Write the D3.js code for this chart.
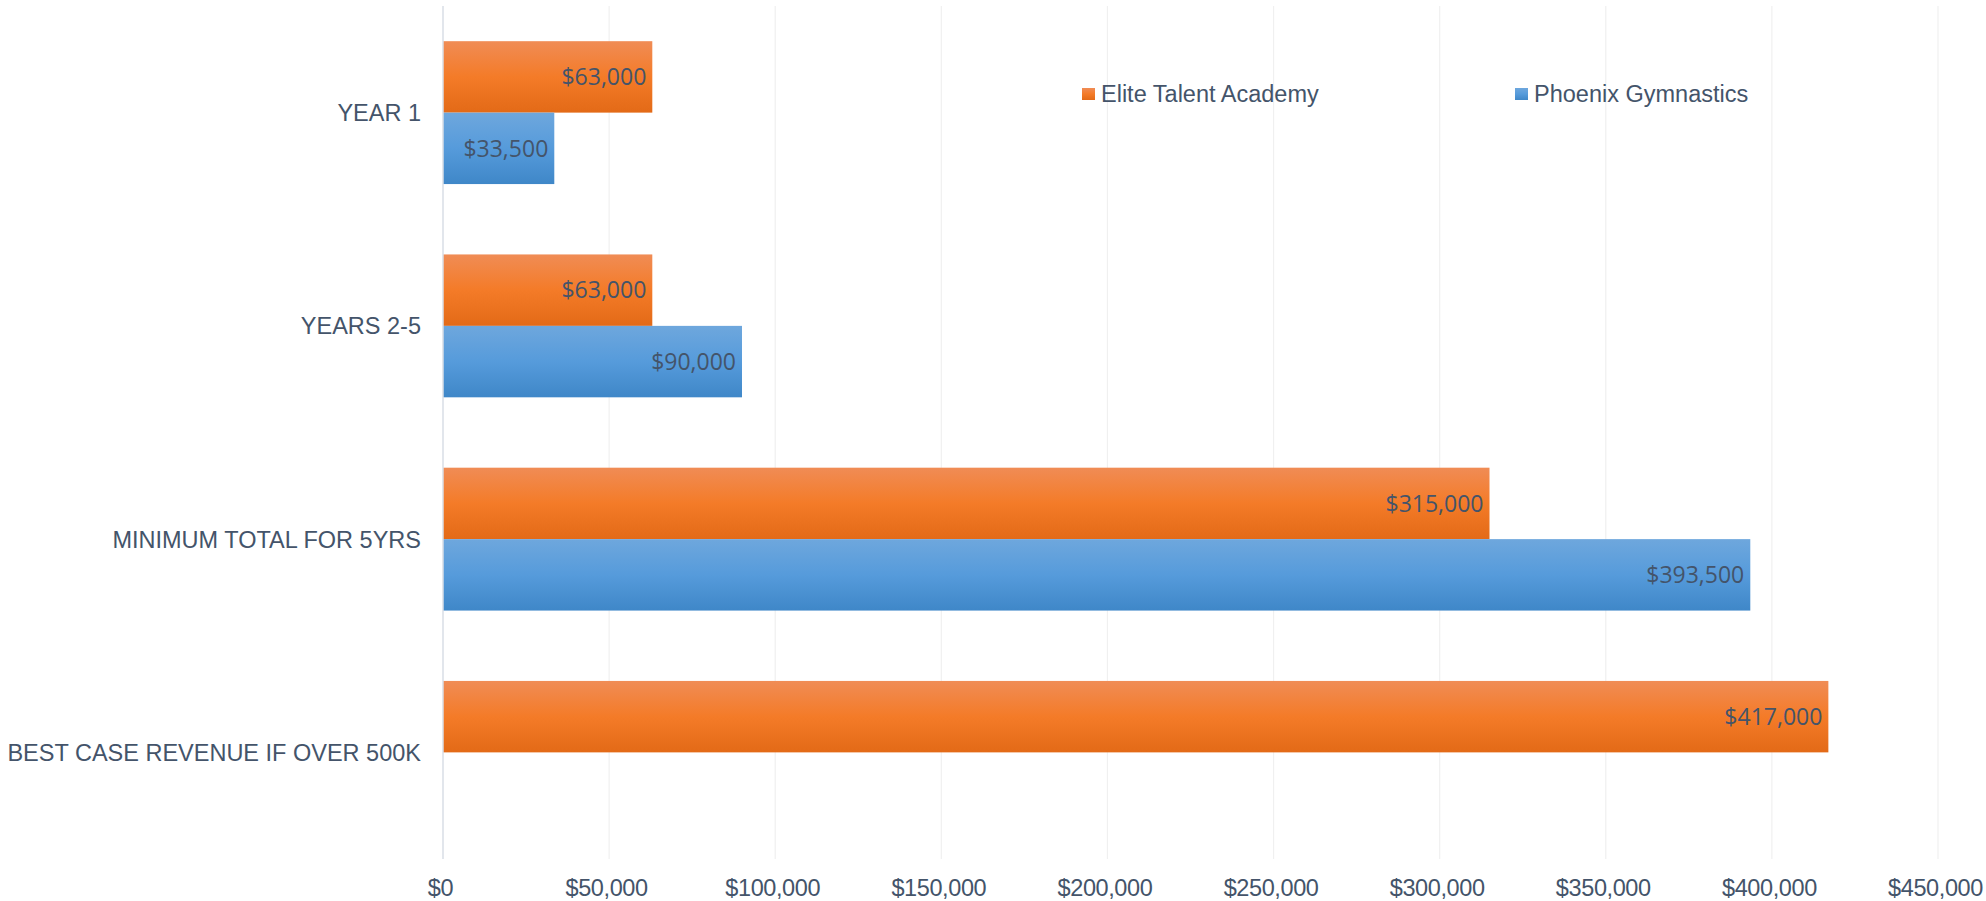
<!DOCTYPE html>
<html>
<head>
<meta charset="utf-8">
<script src="https://cdn.jsdelivr.net/npm/d3@7"></script>
<style>
  html, body { margin: 0; padding: 0; background: #ffffff; }
  svg { display: block; }
</style>
</head>
<body>
<svg id="chart" width="1986" height="901"></svg>
<script>
// ---- data ----
const categories = ["YEAR 1", "YEARS 2-5", "MINIMUM TOTAL FOR 5YRS", "BEST CASE REVENUE IF OVER 500K"];
const seriesNames = ["Elite Talent Academy", "Phoenix Gymnastics"];
const eliteValues = [63000, 63000, 315000, 417000];
const phoenixValues = [33500, 90000, 393500, null];
const tickValues = [0, 50000, 100000, 150000, 200000, 250000, 300000, 350000, 400000, 450000];

// ---- layout ----
const plot = { left: 443, right: 1938, top: 6, bottom: 859 };
const textColor = "#44546a";
const fmt = d3.format("$,.0f");

const svg = d3.select("#chart");

// gradients
const defs = svg.append("defs");
function grad(id, c0, c1, c2) {
  const g = defs.append("linearGradient").attr("id", id)
    .attr("x1", 0).attr("y1", 0).attr("x2", 0).attr("y2", 1);
  g.append("stop").attr("offset", "0%").attr("stop-color", c0);
  g.append("stop").attr("offset", "50%").attr("stop-color", c1);
  g.append("stop").attr("offset", "100%").attr("stop-color", c2);
}
grad("gOrange", "#f08c55", "#f47b28", "#e36a17");
grad("gBlue", "#6ea7dd", "#569bdb", "#3f87c8");
const fills = { "Elite Talent Academy": "url(#gOrange)", "Phoenix Gymnastics": "url(#gBlue)" };

// scales
const x = d3.scaleLinear().domain([0, 450000]).range([plot.left, plot.right]);
const y = d3.scaleBand().domain(categories).range([plot.top, plot.bottom])
  .paddingInner(0.33).paddingOuter(0.165);
const ySub = d3.scaleBand().domain(seriesNames).range([0, y.bandwidth()]);

// gridlines
svg.append("g").selectAll("line").data(tickValues.filter(d => d > 0)).join("line")
  .attr("x1", d => x(d)).attr("x2", d => x(d))
  .attr("y1", plot.top).attr("y2", plot.bottom)
  .attr("stroke", "#f0f0f0").attr("stroke-width", 1.2);

// x axis labels
const xAxis = d3.axisBottom(x).tickValues(tickValues).tickFormat(fmt).tickSize(0).tickPadding(0);
const gx = svg.append("g").attr("transform", `translate(0,${plot.bottom})`).call(xAxis);
gx.select(".domain").remove();
gx.selectAll("text")
  .attr("y", 37).attr("dy", null).attr("dx", -3)
  .attr("fill", textColor)
  .style("font-family", "'Liberation Sans', Arial, sans-serif")
  .style("font-size", "23.5px")
  .style("letter-spacing", "-0.4px");

// bars
const rows = categories.map((c, i) => ({
  cat: c,
  vals: [
    { s: seriesNames[0], v: eliteValues[i] },
    { s: seriesNames[1], v: phoenixValues[i] }
  ].filter(d => d.v !== null)
}));

const groups = svg.append("g").selectAll("g").data(rows).join("g")
  .attr("transform", d => `translate(0,${y(d.cat)})`);

groups.selectAll("rect").data(d => d.vals).join("rect")
  .attr("x", x(0))
  .attr("y", d => ySub(d.s))
  .attr("width", d => x(d.v) - x(0))
  .attr("height", ySub.bandwidth())
  .attr("fill", d => fills[d.s]);

groups.selectAll("text.lbl").data(d => d.vals).join("text")
  .attr("class", "lbl")
  .attr("x", d => x(d.v) - 6)
  .attr("y", d => ySub(d.s) + ySub.bandwidth() / 2)
  .attr("dy", "0.36em")
  .attr("text-anchor", "end")
  .attr("fill", textColor)
  .style("font-family", "'Open Sans', sans-serif")
  .style("font-size", "23px")
  .text(d => fmt(d.v));

// zero axis line
svg.append("line")
  .attr("x1", x(0)).attr("x2", x(0))
  .attr("y1", plot.top).attr("y2", plot.bottom)
  .attr("stroke", "#d9dee6").attr("stroke-width", 1.5);

// category labels
svg.append("g").selectAll("text").data(categories).join("text")
  .attr("x", x(0) - 22)
  .attr("y", d => y(d) + y.bandwidth() / 2)
  .attr("dy", "0.36em")
  .attr("text-anchor", "end")
  .attr("fill", textColor)
  .style("font-family", "'Liberation Sans', Arial, sans-serif")
  .style("font-size", "23.5px")
  .text(d => d);

// legend
const legendPos = [1082, 1515];
const lg = svg.append("g").selectAll("g").data(seriesNames).join("g")
  .attr("transform", (d, i) => `translate(${legendPos[i]},88)`);
lg.append("rect").attr("width", 13).attr("height", 12).attr("fill", d => fills[d]);
lg.append("text")
  .attr("x", 19).attr("y", 6).attr("dy", "0.36em")
  .attr("fill", textColor)
  .style("font-family", "'Liberation Sans', Arial, sans-serif")
  .style("font-size", "23.5px")
  .text(d => d);
</script>
</body>
</html>
